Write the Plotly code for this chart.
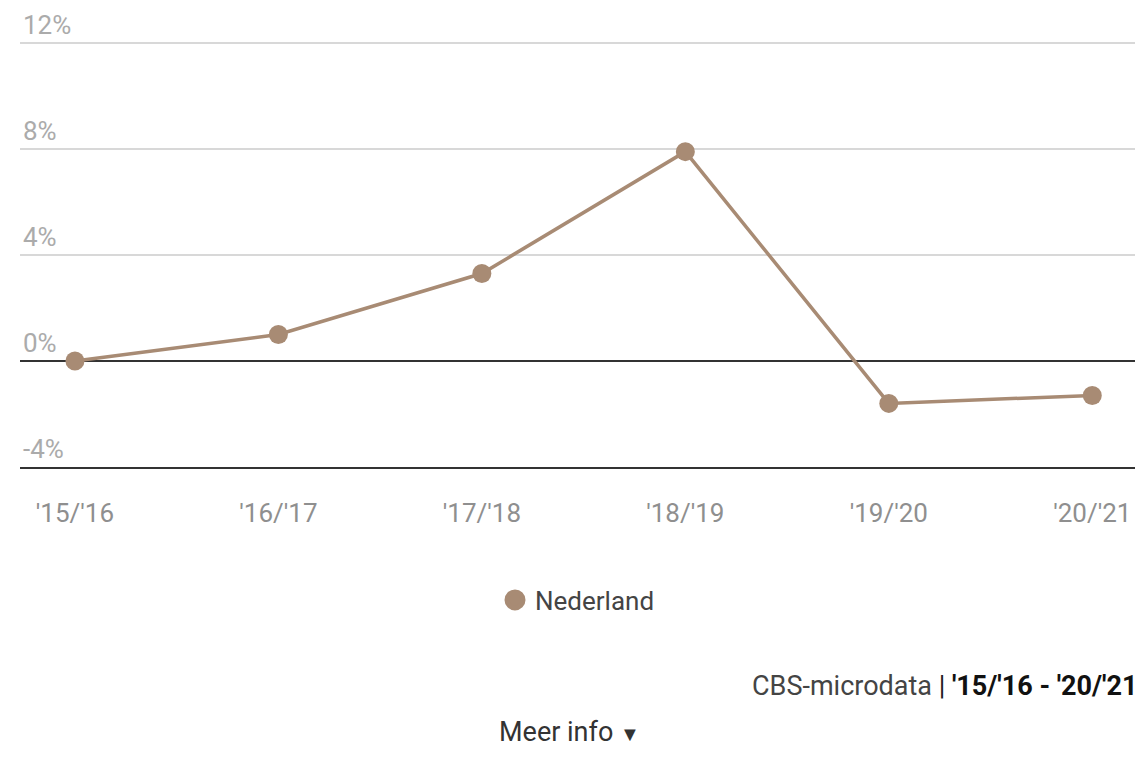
import plotly.graph_objects as go

categories = ["'15/'16", "'16/'17", "'17/'18", "'18/'19", "'19/'20", "'20/'21"]
nederland = [0.0, 1.0, 3.3, 7.9, -1.6, -1.3]
y_tickvals = [-4, 0, 4, 8, 12]
y_ticktext = ["-4%", "0%", "4%", "8%", "12%"]
series_name = "Nederland"
source_text = "CBS-microdata"
period_text = "'15/'16 - '20/'21"
more_text = "Meer info"

BROWN = "#a88b74"
FONT = "Roboto, sans-serif"

fig = go.Figure()
fig.add_trace(go.Scatter(
    x=categories, y=nederland, mode="lines+markers",
    line=dict(color=BROWN, width=3.5),
    marker=dict(color=BROWN, size=19),
    name=series_name, legendgroup="nl", showlegend=False,
    hoverinfo="skip",
))
fig.add_trace(go.Scatter(
    x=[None], y=[None], mode="markers",
    marker=dict(color=BROWN, size=30, line=dict(color=BROWN, width=5)),
    name=series_name, legendgroup="nl", showlegend=True,
))

fig.update_layout(
    width=1145, height=772,
    margin=dict(l=20, r=10, t=1, b=305, autoexpand=False),
    paper_bgcolor="white", plot_bgcolor="white",
    font=dict(family=FONT),
    showlegend=True,
    legend=dict(orientation="h", x=0.5, xanchor="center", y=-0.2854, yanchor="middle",
                font=dict(size=26, color="#444", family=FONT),
                itemclick=False, itemdoubleclick=False),
    xaxis=dict(type="category", range=[-0.27, 5.21], showgrid=False,
               showline=True, linecolor="#333", linewidth=2,
               ticks="", ticklabelstandoff=22, automargin=False,
               tickfont=dict(size=26, color="#8f8f8f", family=FONT),
               zeroline=False, fixedrange=True),
    yaxis=dict(range=[-4, 13.585], tickvals=y_tickvals, ticktext=y_ticktext,
               ticklabelposition="inside top", automargin=False,
               tickfont=dict(size=26, color="#ababab", family=FONT),
               showgrid=True, gridcolor="#d8d8d8", gridwidth=2,
               zeroline=True, zerolinecolor="#333", zerolinewidth=2,
               showline=False, fixedrange=True),
)

fig.add_annotation(
    xref="paper", yref="paper", x=1.004, y=-0.47, xanchor="right", yanchor="middle",
    showarrow=False,
    text=f"<span style='color:#444'>{source_text}</span><span style='color:#222'> | </span><b style='color:#111'>{period_text}</b>",
    font=dict(size=27, family=FONT),
)
fig.add_annotation(
    xref="paper", yref="paper", x=0.493, y=-0.5687, xanchor="center", yanchor="middle",
    showarrow=False,
    text=f"{more_text} <span style='font-size:20px'>▼</span>",
    font=dict(size=27, color="#333", family=FONT),
)

fig.write_html(
    "out.html",
    config={"displayModeBar": False},
    post_script="document.body.style.margin='0';document.body.style.overflow='hidden';",
)
